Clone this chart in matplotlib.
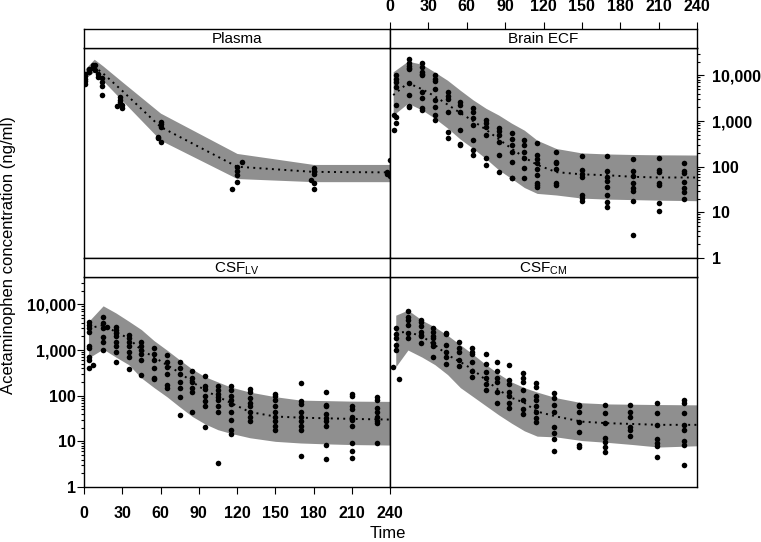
import numpy as np
import matplotlib
matplotlib.use("Agg")
import matplotlib.pyplot as plt
from matplotlib.ticker import LogLocator, FuncFormatter, NullFormatter, FixedLocator

plt.rcParams['font.family'] = ['Liberation Sans', 'DejaVu Sans']
plt.rcParams['mathtext.fontset'] = 'custom'
plt.rcParams['mathtext.rm'] = 'Liberation Sans'
plt.rcParams['mathtext.it'] = 'Liberation Sans:italic'
plt.rcParams['mathtext.bf'] = 'Liberation Sans:bold'

# ---- observed concentrations (ng/ml), grouped by sampling time (min) ----
plasma_obs = [
    (1, [6500, 7500, 8500, 9500, 11000]),
    (4, [12000, 13500]),
    (7, [16500, 15500, 14500]),
    (9, [17000, 13000]),
    (11, [11000, 9000]),
    (14, [8700, 7000, 5800, 3800]),
    (26, [2100]),
    (28, [3300, 2900, 2600]),
    (30, [2200, 1900]),
    (58, [450, 420]),
    (60, [950, 850, 740, 350]),
    (116, [32]),
    (120, [100, 80, 65, 47]),
    (124, [124]),
    (178, [50]),
    (180, [95, 80, 70, 45, 32]),
    (238, [76, 70]),
    (240, [140, 62]),
]

brain_obs = [
    (3, [1350, 630]),
    (5, [10000, 8500, 7000, 5500, 2300, 1200, 900]),
    (15, [23000, 19000, 16000, 14500, 13500, 6800, 3700, 2100, 2000]),
    (25, [19000, 15000, 12000, 11000, 10000, 4300, 3200, 1900, 1750]),
    (35, [10000, 8500, 7500, 5000, 2900, 2000, 1350, 1050]),
    (45, [4400, 3500, 3100, 1600, 570, 420]),
    (55, [2600, 2200, 1600, 630, 310, 300]),
    (65, [1900, 1600, 1150, 820, 380, 230, 180]),
    (75, [1050, 900, 730, 490, 155, 110]),
    (85, [700, 600, 490, 350, 180, 76]),
    (95, [540, 400, 300, 210, 125, 56, 56]),
    (105, [380, 300, 210, 155, 93, 56]),
    (115, [330, 180, 150, 120, 90, 65, 44, 40, 36]),
    (130, [210, 125, 120, 90, 44, 40]),
    (150, [170, 85, 70, 58, 24, 21, 18]),
    (170, [170, 80, 60, 48, 36, 24, 17, 13]),
    (190, [146, 80, 62, 45, 34, 29, 18, 3.2]),
    (210, [155, 85, 75, 45, 40, 16, 10.7]),
    (230, [120, 80, 72, 46, 35, 28, 20]),
]

csflv_obs = [
    (4, [4200, 3500, 3000, 2500, 1200, 1100, 700, 620, 400]),
    (7, [480]),
    (15, [5400, 4000, 3000, 1900, 1500, 1000]),
    (18, [3200]),
    (25, [3200, 2800, 2400, 2000, 1500, 1200, 900, 560]),
    (35, [2100, 1800, 1500, 1200, 900, 700, 390]),
    (45, [1500, 1200, 1000, 800, 600, 285]),
    (55, [1100, 800, 600, 400, 240, 230]),
    (65, [780, 550, 420, 300, 170, 150]),
    (75, [550, 400, 300, 200, 150, 95, 38]),
    (85, [340, 250, 200, 150, 120, 44]),
    (95, [270, 160, 140, 100, 75, 60, 21]),
    (105, [160, 130, 110, 95, 80, 60, 45, 3.4]),
    (115, [160, 130, 100, 80, 65, 45, 30, 18, 14.5]),
    (130, [140, 120, 90, 70, 60, 45, 35, 28]),
    (150, [110, 100, 80, 60, 45, 35, 28, 22, 18]),
    (170, [190, 75, 65, 45, 35, 28, 22, 18, 4.7]),
    (190, [120, 62, 60, 40, 32, 28, 22, 8.3, 4.2]),
    (210, [110, 100, 60, 50, 35, 30, 22, 9, 6.2, 4.4]),
    (230, [95, 80, 55, 45, 35, 28, 25, 9]),
]

csfcm_obs = [
    (2, [435]),
    (5, [3000, 2200, 1800, 1300, 1000]),
    (7, [235]),
    (14, [7000, 5300, 4500, 3600, 2400, 1850]),
    (24, [4500, 4200, 3400, 2500, 2100, 2000, 1450]),
    (34, [3000, 2500, 2000, 1800, 1400, 1200, 700]),
    (44, [2400, 2200, 1300, 900, 700, 500]),
    (54, [1500, 1100, 900, 600, 450]),
    (64, [1100, 900, 800, 550, 350, 260]),
    (75, [800, 500, 330, 250, 180, 135]),
    (84, [540, 350, 250, 200, 120, 70]),
    (93, [480, 220, 180, 120, 100, 70, 55]),
    (104, [310, 240, 200, 130, 80, 50, 40]),
    (114, [190, 155, 100, 80, 60, 45, 32, 26]),
    (128, [115, 90, 63, 44, 21, 15, 11, 6.2]),
    (148, [63, 58, 44, 27, 16, 8.4, 7.6]),
    (168, [63, 42, 25, 12, 9.6, 7.6, 5.8]),
    (188, [63, 45, 34, 21, 18, 13]),
    (209, [70, 42, 23, 11, 9, 8, 4.5]),
    (230, [80, 70, 42, 23, 18, 10, 8.5, 3.1]),
]

# ---- prediction interval (band) and median (dotted) ----
plasma_pt = [1, 8, 15, 30, 60, 120, 180, 240]
plasma_lo = [8700, 12000, 7600, 2800, 380, 55, 47, 47]
plasma_hi = [14000, 22600, 16000, 7200, 1490, 195, 112, 112]
plasma_med = [9500, 15500, 11000, 4600, 745, 100, 77, 75]

brain_pt = [2.5, 14, 25, 35, 45, 55, 65, 75, 85, 95, 105, 115, 130, 150, 170, 190, 210, 240]
brain_lo = [1350, 2450, 1750, 1150, 700, 400, 250, 150, 85, 55, 35, 26, 24, 20.5, 19.5, 19, 18.5, 18]
brain_hi = [12000, 20500, 17500, 11800, 7800, 4700, 2900, 1900, 1350, 900, 630, 380, 250, 200, 190, 185, 182, 180]
brain_med = [3700, 6800, 5000, 3500, 2300, 1500, 1000, 650, 400, 250, 160, 110, 76, 68, 65, 60, 58, 58]

csflv_pt = [3.5, 15, 25, 35, 45, 55, 65, 75, 85, 95, 105, 115, 130, 150, 170, 190, 210, 240]
csflv_lo = [670, 1050, 700, 480, 245, 150, 95, 57, 35, 24, 18, 15, 12, 10, 9.2, 8.8, 8.5, 8.3]
csflv_hi = [4200, 9300, 6500, 4300, 2800, 1600, 1000, 610, 380, 260, 200, 155, 120, 95, 80, 78, 76, 75]
csflv_med = [3000, 3500, 2500, 1800, 1000, 700, 470, 320, 200, 130, 95, 70, 44, 35, 33, 32, 31, 30]

csfcm_pt = [4.5, 14, 25, 35, 45, 55, 65, 75, 85, 95, 105, 115, 130, 150, 170, 190, 210, 240]
csfcm_lo = [430, 1000, 700, 480, 290, 150, 95, 60, 38, 25, 17, 13, 12.5, 10.4, 9.5, 8.5, 7.5, 8]
csfcm_hi = [5800, 7500, 4500, 3200, 2100, 1300, 800, 480, 300, 200, 150, 120, 90, 70, 66, 65, 64, 63]
csfcm_med = [2400, 2500, 2000, 1300, 780, 550, 370, 220, 133, 90, 70, 45, 35, 27, 25, 24, 23, 23]

time_ticks = [0, 30, 60, 90, 120, 150, 180, 210, 240]
conc_ticks = [1, 10, 100, 1000, 10000]

W, H = 761, 542
fig = plt.figure(figsize=(W / 100, H / 100), dpi=100)


def add_box(x0, y0, x1, y1):
    return fig.add_axes([x0 / W, 1 - y1 / H, (x1 - x0) / W, (y1 - y0) / H])


def draw_panel(ax, obs, pt, lo, hi, med):
    ax.fill_between(pt, lo, hi, color='#8f8f8f', lw=0, zorder=1)
    ax.plot(pt, med, color='black', lw=1.4, linestyle=(0, (1, 2.2)), zorder=2)
    for t, vals in obs:
        ax.scatter([t] * len(vals), vals, s=16, color='black', lw=0, zorder=3)
    ax.set_yscale('log')
    ax.set_xlim(0, 240)
    ax.set_ylim(1, 10 ** 4.6)
    ax.tick_params(which='both', left=False, right=False, top=False, bottom=False,
                   labelleft=False, labelbottom=False)
    for s in ax.spines.values():
        s.set_linewidth(1.0)


def add_strip(x0, y0, x1, y1, label):
    st = add_box(x0, y0, x1, y1)
    st.set_xlim(0, 240)
    st.set_xticks([])
    st.set_yticks([])
    st.text(0.5, 0.45, label, ha='center', va='center', fontsize=11, transform=st.transAxes)
    for s in st.spines.values():
        s.set_linewidth(1.0)
    return st


def log_y_axis(ax):
    ax.yaxis.set_major_locator(FixedLocator(conc_ticks))
    ax.yaxis.set_minor_locator(LogLocator(base=10, subs=np.arange(2, 10)))
    ax.yaxis.set_major_formatter(FuncFormatter(lambda v, p: f'{v:,.0f}'))
    ax.yaxis.set_minor_formatter(NullFormatter())
    ax.tick_params(which='major', length=5)
    ax.tick_params(which='minor', length=2.5)


tick_font = dict(labelsize=11.5, width=0.8, direction='out')

panels = [
    ('Plasma', (84, 29, 390, 48), (84, 48, 390, 258), plasma_obs, plasma_pt, plasma_lo, plasma_hi, plasma_med),
    ('Brain ECF', (390, 29, 697, 48), (390, 48, 697, 258), brain_obs, brain_pt, brain_lo, brain_hi, brain_med),
    (r'CSF$_{\mathrm{LV}}$', (84, 258, 390, 277), (84, 277, 390, 487), csflv_obs, csflv_pt, csflv_lo, csflv_hi, csflv_med),
    (r'CSF$_{\mathrm{CM}}$', (390, 258, 697, 277), (390, 277, 697, 487), csfcm_obs, csfcm_pt, csfcm_lo, csfcm_hi, csfcm_med),
]

axes = {}
for name, sbox, pbox, obs, pt, lo, hi, med in panels:
    ax = add_box(*pbox)
    draw_panel(ax, obs, pt, lo, hi, med)
    st = add_strip(*sbox, name)
    axes[name] = (ax, st)

# lattice-style alternating axes
ax_b, st_b = axes['Brain ECF']
ax_b.tick_params(axis='y', which='both', right=True, labelright=True, pad=6, **tick_font)
log_y_axis(ax_b)
for lab in ax_b.get_yticklabels():
    lab.set_fontweight('bold')

st_b.set_xticks(time_ticks)
st_b.tick_params(axis='x', top=True, labeltop=True, bottom=False, labelbottom=False,
                 length=5, pad=6, **tick_font)
for lab in st_b.get_xticklabels():
    lab.set_fontweight('bold')

ax_l, st_l = axes[r'CSF$_{\mathrm{LV}}$']
ax_l.tick_params(axis='y', which='both', left=True, labelleft=True, pad=1, **tick_font)
ax_l.tick_params(axis='x', which='major', bottom=True, labelbottom=True, pad=8.5, **tick_font)
ax_l.set_xticks(time_ticks)
log_y_axis(ax_l)
ax_l.tick_params(axis='x', which='minor', bottom=False)
for lab in ax_l.get_yticklabels() + ax_l.get_xticklabels():
    lab.set_fontweight('bold')

fig.text(9 / W, 1 - 255 / H, 'Acetaminophen concentration (ng/ml)', rotation=90,
         ha='center', va='center', fontsize=12)
fig.text(388 / W, 1 - 533 / H, 'Time', ha='center', va='center', fontsize=12)

fig.savefig('out.png', dpi=100)
